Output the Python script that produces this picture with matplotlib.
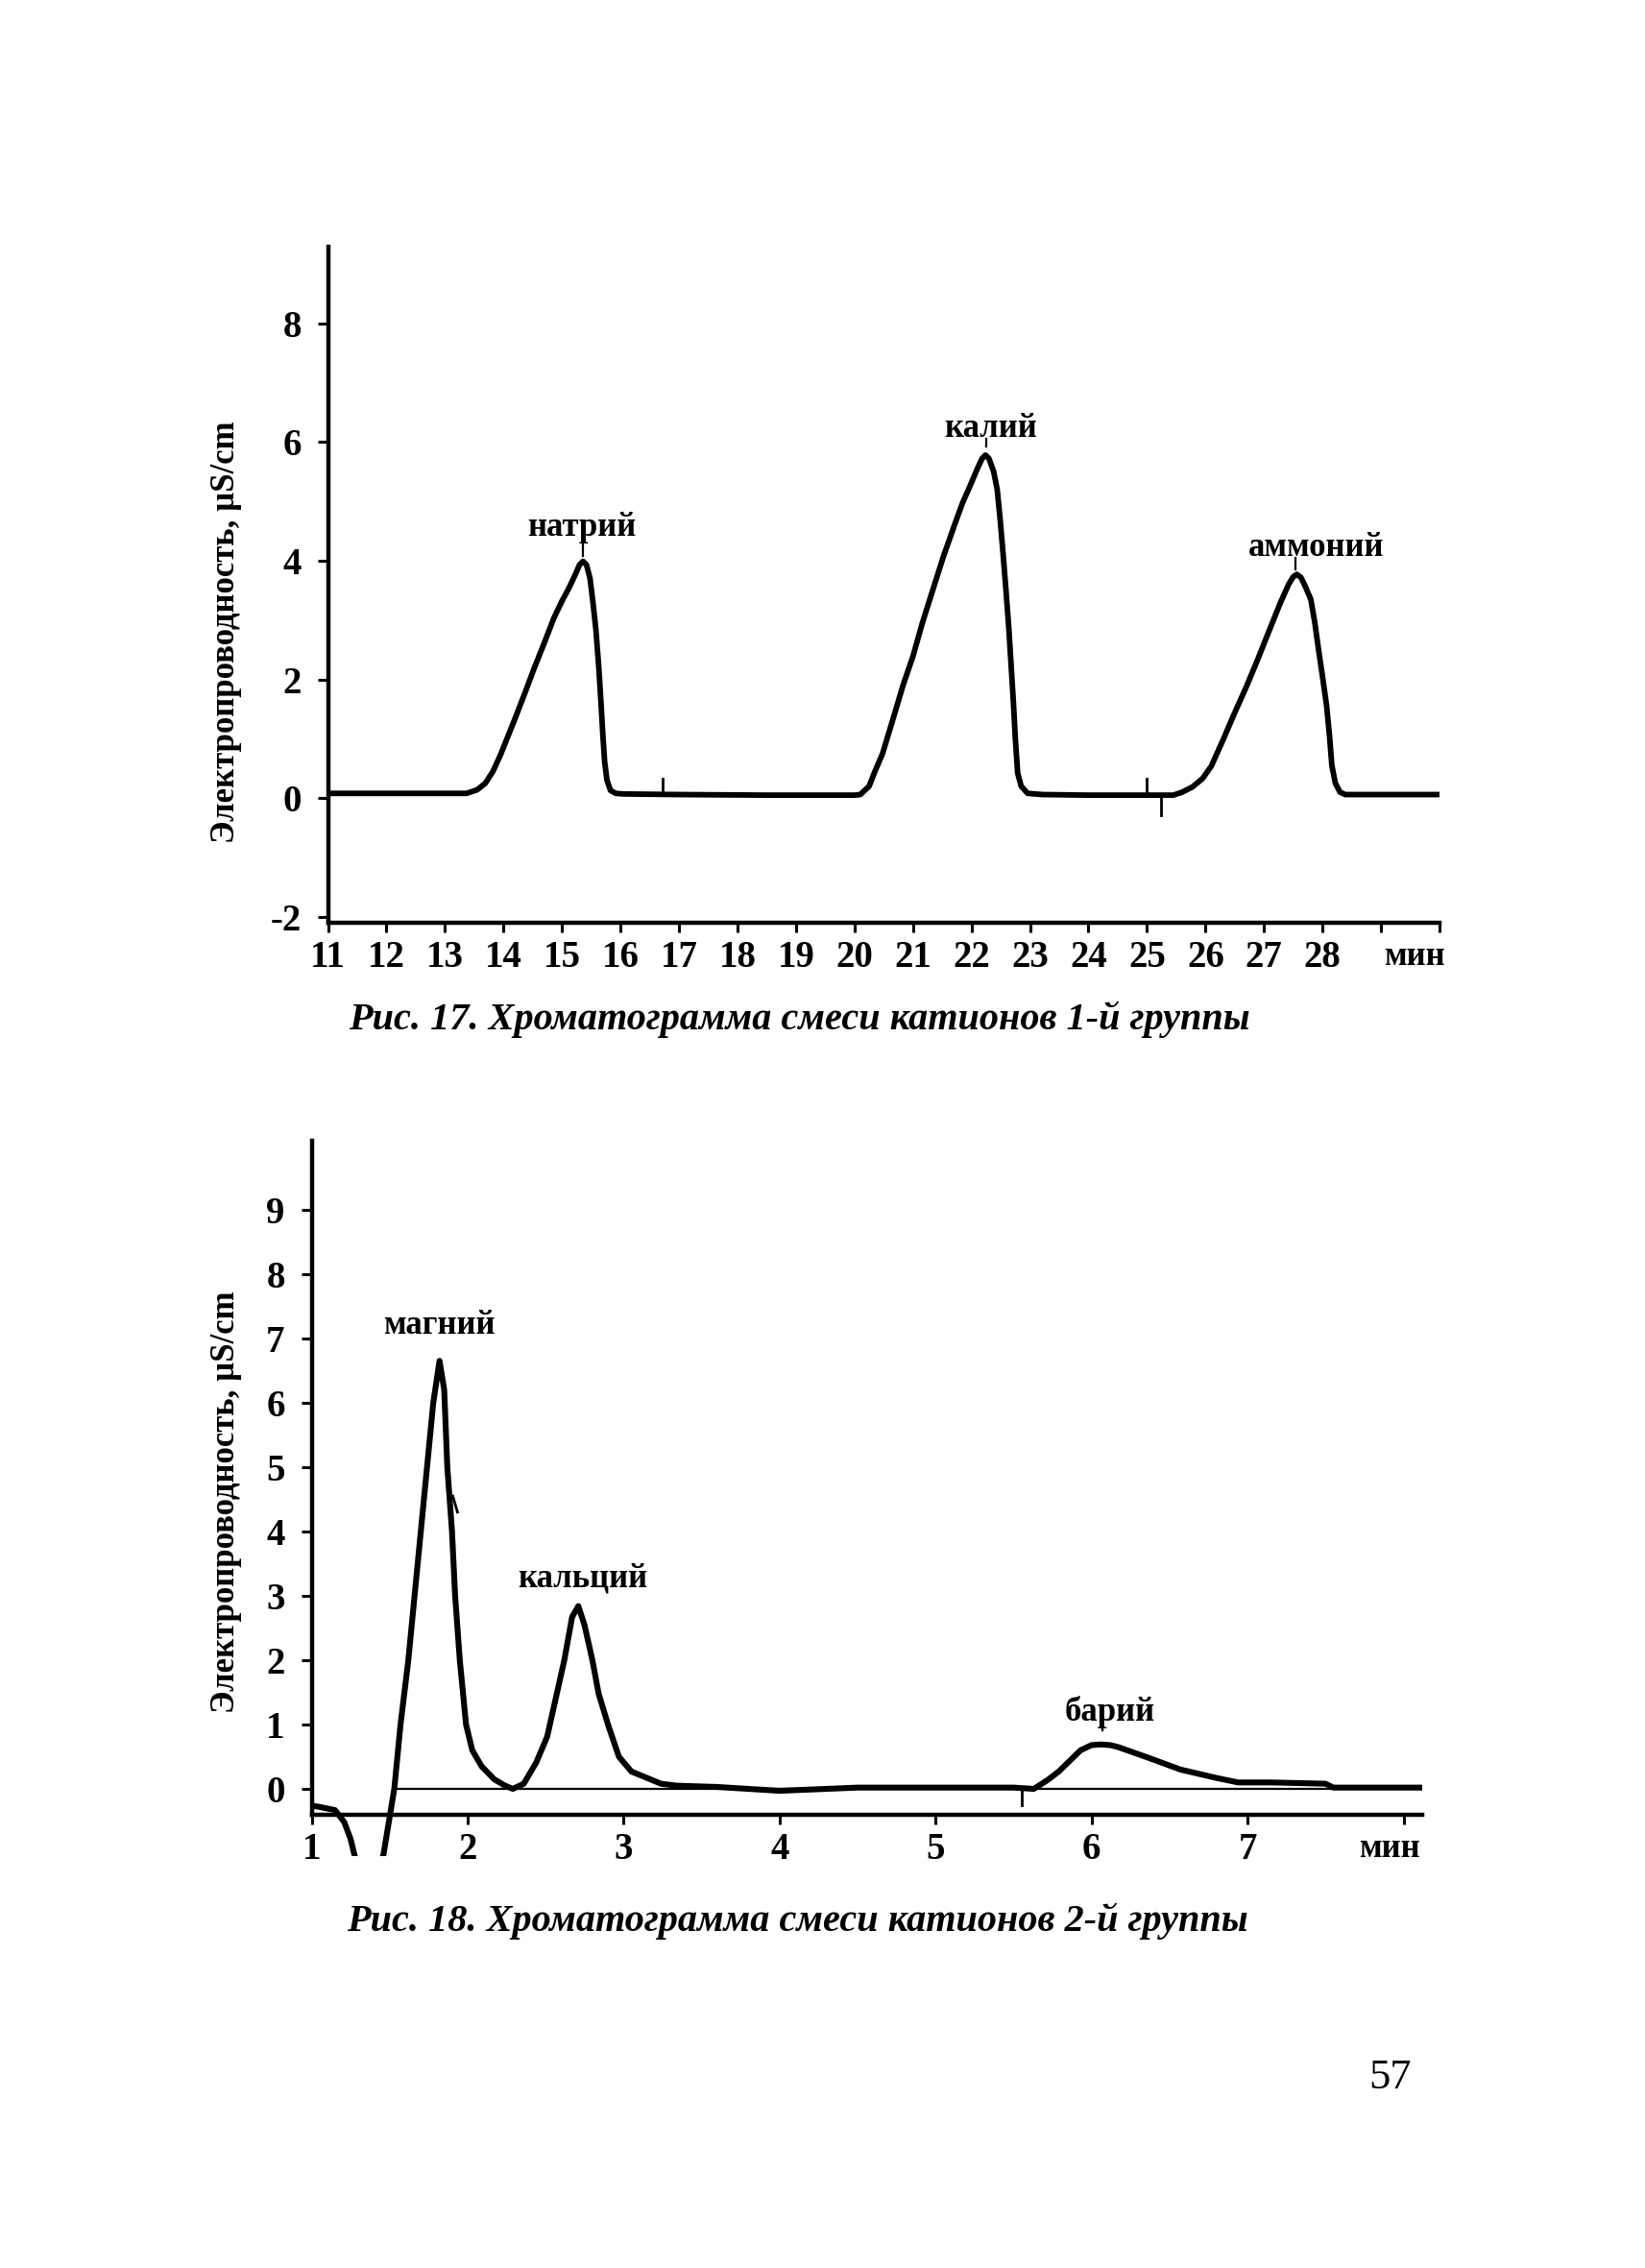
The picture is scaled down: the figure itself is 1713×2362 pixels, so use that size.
import matplotlib
matplotlib.use("Agg")
import matplotlib.pyplot as plt

# Рис. 17 — катионы 1-й группы (время, мин / электропроводность, µS/cm)
t1 = [11.0, 13.0, 13.37, 13.55, 13.69, 13.82, 13.95, 14.08, 14.21, 14.37, 14.53,
      14.70, 14.86, 15.0, 15.12, 15.22, 15.30, 15.36, 15.42, 15.48, 15.53, 15.58,
      15.63, 15.67, 15.70, 15.73, 15.77, 15.83, 15.92, 16.05, 17.0, 18.5, 20.0,
      20.10, 20.25, 20.35, 20.48, 20.67, 20.83, 21.0, 21.16, 21.33, 21.52, 21.72,
      21.85, 21.98, 22.10, 22.18, 22.24, 22.30, 22.38, 22.44, 22.49, 22.54, 22.59,
      22.64, 22.68, 22.72, 22.75, 22.79, 22.85, 22.96, 23.22, 24.0, 25.0, 25.45,
      25.60, 25.78, 25.95, 26.10, 26.30, 26.50, 26.70, 26.89, 27.08, 27.28, 27.42,
      27.50, 27.56, 27.63, 27.70, 27.80, 27.87, 27.93, 28.00, 28.07, 28.12, 28.16,
      28.22, 28.30, 28.39, 30.0]
g1 = [0.08, 0.08, 0.08, 0.14, 0.25, 0.45, 0.73, 1.05, 1.37, 1.78, 2.20,
      2.62, 3.03, 3.32, 3.54, 3.75, 3.93, 3.99, 3.93, 3.70, 3.30, 2.84,
      2.20, 1.56, 1.05, 0.61, 0.30, 0.13, 0.08, 0.07, 0.06, 0.05, 0.05,
      0.06, 0.20, 0.45, 0.75, 1.37, 1.90, 2.39, 2.95, 3.48, 4.07, 4.63,
      4.98, 5.27, 5.55, 5.72, 5.78, 5.72, 5.50, 5.20, 4.70, 4.12, 3.50,
      2.84, 2.20, 1.56, 1.00, 0.42, 0.20, 0.08, 0.06, 0.05, 0.05, 0.05,
      0.10, 0.19, 0.33, 0.54, 0.98, 1.44, 1.88, 2.33, 2.80, 3.29, 3.60,
      3.73, 3.77, 3.72, 3.58, 3.35, 2.95, 2.52, 2.05, 1.56, 1.05, 0.55,
      0.25, 0.10, 0.06, 0.06]

# Рис. 18 — катионы 2-й группы
t2 = [1.0, 1.05, 1.15, 1.21, 1.25, 1.275, 1.36, 1.46, 1.50, 1.53, 1.57, 1.62,
      1.66, 1.70, 1.74, 1.78, 1.82, 1.85, 1.87, 1.90, 1.92, 1.95, 1.99, 2.03,
      2.09, 2.17, 2.24, 2.29, 2.36, 2.44, 2.51, 2.56, 2.62, 2.67, 2.71, 2.75,
      2.80, 2.84, 2.90, 2.97, 3.05, 3.14, 3.24, 3.34, 3.60, 4.0, 4.5, 5.0,
      5.5, 5.63, 5.72, 5.79, 5.93, 6.0, 6.06, 6.12, 6.17, 6.38, 6.57, 6.80,
      6.94, 7.15, 7.50, 7.55, 8.12]
g2 = [-0.26, -0.28, -0.33, -0.52, -0.78, -1.03, -1.60, -1.03, -0.44, 0.0, 1.0, 2.0,
      3.0, 4.0, 5.0, 6.0, 6.65, 6.2, 5.0, 4.0, 3.0, 2.0, 1.0, 0.6,
      0.35, 0.15, 0.05, 0.0, 0.08, 0.41, 0.81, 1.35, 2.0, 2.67, 2.84, 2.54,
      2.0, 1.48, 1.0, 0.5, 0.27, 0.18, 0.08, 0.05, 0.03, -0.03, 0.02, 0.02,
      0.02, 0.0, 0.14, 0.27, 0.60, 0.68, 0.69, 0.68, 0.65, 0.47, 0.30, 0.17,
      0.10, 0.10, 0.08, 0.02, 0.02]

# подписи пиков: текст, x, y
peaks1 = ["натрий", "калий", "аммоний"]
peaks1_x = [15.34, 22.32, 27.90]
peaks1_y = [4.56, 6.23, 4.21]
peaks2 = ["магний", "кальций", "барий"]
peaks2_x = [1.815, 2.74, 6.12]
peaks2_y = [7.2, 3.27, 1.19]

xt1 = list(range(11, 31))
xt1_lab = [str(v) for v in range(11, 29)] + ["", ""]
yt1 = [-2, 0, 2, 4, 6, 8]
yt1_lab = ["-2", "0", "2", "4", "6", "8"]
xt2 = list(range(1, 9))
xt2_lab = [str(v) for v in range(1, 8)] + [""]
yt2 = list(range(0, 10))

W, H = 1713, 2362
plt.rcParams['font.family'] = ['Liberation Serif', 'DejaVu Serif']
fig = plt.figure(figsize=(W / 100, H / 100), dpi=100)
fig.patch.set_facecolor("white")

lw_curve = 4.2
lw_axis = 3.2
fs_tick = 28
fs_lab = 25


def style(ax):
    for s in ["top", "right"]:
        ax.spines[s].set_visible(False)
    for s in ["left", "bottom"]:
        ax.spines[s].set_linewidth(lw_axis)
    ax.tick_params(direction="out", width=2.2, labelsize=fs_tick)
    ax.tick_params(axis="x", length=7, pad=6)
    ax.tick_params(axis="y", length=8, pad=12)
    for lab in ax.get_xticklabels() + ax.get_yticklabels():
        lab.set_fontweight("bold")


# ---- рис. 17 ----
ax1 = fig.add_axes([341.5 / W, 1 - 961 / H, (1499 - 341.5) / W, (961 - 257) / H])
ax1.plot(t1, g1, color="black", lw=lw_curve, solid_joinstyle="round")
ax1.set_xlim(11, 30)
ax1.set_ylim(-2.1, 9.29)
ax1.set_xticks(xt1)
ax1.set_xticklabels(xt1_lab)
ax1.set_yticks(yt1)
ax1.set_yticklabels(yt1_lab)
style(ax1)
ax1.text(29.58, -2.68, "мин", ha="center", va="center", fontsize=fs_lab,
         fontweight="bold")
for name, x, y in zip(peaks1, peaks1_x, peaks1_y):
    ax1.text(x, y, name, ha="center", va="center", fontsize=fs_lab, fontweight="bold")
# отметки под подписями и метки событий
ax1.plot([15.36, 15.36], [4.08, 4.30], color="black", lw=1.6)
ax1.plot([22.26, 22.26], [5.93, 6.06], color="black", lw=1.6)
ax1.plot([27.54, 27.54], [3.86, 4.05], color="black", lw=1.6)
ax1.plot([16.72, 16.72], [0.07, 0.32], color="black", lw=2)
ax1.plot([25.0, 25.0], [0.06, 0.32], color="black", lw=2)
ax1.plot([25.24, 25.24], [0.0, -0.28], color="black", lw=2)
fig.text(236 / W, 1 - 658.5 / H, "Электропроводность, µS/cm", rotation=90,
         ha="center", va="center", fontsize=fs_lab, fontweight="bold")
fig.text(832 / W, 1 - 1072 / H, "Рис. 17. Хроматограмма смеси катионов 1-й группы",
         ha="center", va="baseline", fontsize=29, fontweight="bold", fontstyle="italic")

# ---- рис. 18 ----
ax2 = fig.add_axes([324.5 / W, 1 - 1933.4 / H, (1481 - 324.5) / W, (1933.4 - 1188) / H])
ax2.plot([1.55, 8.12], [0, 0], color="black", lw=1.6)
ax2.plot(t2, g2, color="black", lw=lw_curve + 0.2, solid_joinstyle="round")
ax2.set_xlim(1, 8.12)
ax2.set_ylim(-1.05, 10.07)
ax2.spines["bottom"].set_position(("data", -0.40))
ax2.spines["left"].set_bounds(-0.40, 10.07)
ax2.set_xticks(xt2)
ax2.set_xticklabels(xt2_lab)
ax2.set_yticks(yt2)
style(ax2)
ax2.text(7.91, -0.93, "мин", ha="center", va="center", fontsize=fs_lab, fontweight="bold")
for name, x, y in zip(peaks2, peaks2_x, peaks2_y):
    ax2.text(x, y, name, ha="center", va="center", fontsize=fs_lab, fontweight="bold")
ax2.plot([6.07, 6.07], [0.91, 1.03], color="black", lw=1.6)
ax2.plot([5.55, 5.55], [0.0, -0.25], color="black", lw=2)
ax2.plot([1.905, 1.935], [4.55, 4.30], color="black", lw=2)
fig.text(236 / W, 1 - 1564 / H, "Электропроводность, µS/cm", rotation=90,
         ha="center", va="center", fontsize=fs_lab, fontweight="bold")
fig.text(830 / W, 1 - 2011 / H, "Рис. 18. Хроматограмма смеси катионов 2-й группы",
         ha="center", va="baseline", fontsize=29, fontweight="bold", fontstyle="italic")

fig.text(1448 / W, 1 - 2175 / H, "57", ha="center", va="baseline", fontsize=32)

fig.savefig("out.png", dpi=100, facecolor="white")
